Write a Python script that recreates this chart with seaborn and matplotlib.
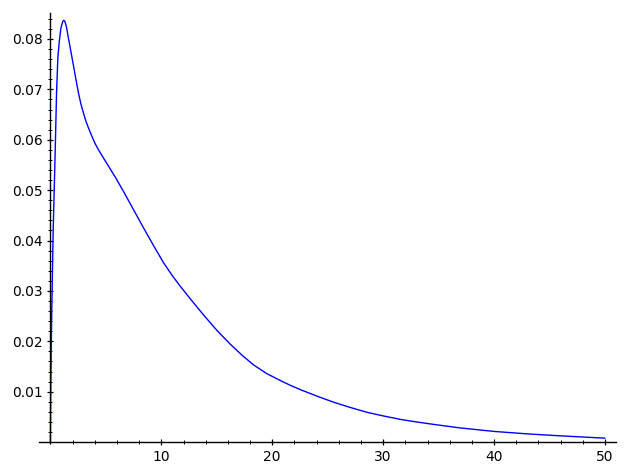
import numpy as np
import pandas as pd
import matplotlib
matplotlib.use('Agg')
import matplotlib.pyplot as plt
import matplotlib.ticker as mticker
import seaborn as sns

# values
x_vals = [0, 0.03, 0.07, 0.13, 0.25, 0.43, 0.55, 0.67, 0.8, 0.95, 1.1, 1.2,
          1.3, 1.45, 1.63, 1.85, 2.08, 2.3, 2.53, 2.75, 2.98, 3.2, 3.44,
          3.74, 4.04, 4.34, 4.64, 5.2, 5.9, 6.6, 7.5, 8.4, 9.3, 10.2, 11.0,
          11.72, 12.7, 13.82, 15.0, 16.23, 17.3, 18.33, 19.5, 20.75, 21.6,
          22.55, 24.06, 25.56, 27.0, 28.57, 30.0, 31.58, 33.0, 34.6, 37.0,
          40.0, 43.0, 46.0, 50.0]
y_vals = [0, 0.010, 0.018, 0.027, 0.042, 0.0575, 0.069, 0.0762, 0.0795,
          0.0822, 0.0834, 0.0837, 0.0835, 0.0824, 0.0801, 0.0775, 0.0747,
          0.0720, 0.0693, 0.0671, 0.0653, 0.0637, 0.0623, 0.0607, 0.0592,
          0.0580, 0.0569, 0.0549, 0.0524, 0.0497, 0.0461, 0.0425, 0.0390,
          0.0356, 0.0330, 0.0309, 0.0282, 0.0252, 0.0222, 0.0194, 0.0172,
          0.0153, 0.0136, 0.0122, 0.0113, 0.0104, 0.0091, 0.0079, 0.0069,
          0.0059, 0.0052, 0.0045, 0.0040, 0.0035, 0.0028, 0.00212, 0.00163,
          0.00124, 0.00078]
x_ticks = [10, 20, 30, 40, 50]
y_ticks = [0.01, 0.02, 0.03, 0.04, 0.05, 0.06, 0.07, 0.08]

df = pd.DataFrame({'x': x_vals, 'y': y_vals})

sns.set_style('white')
plt.rcParams['font.family'] = ['DejaVu Sans']

fig = plt.figure(figsize=(6.28, 4.68), dpi=100)
ax = fig.add_axes([0.0626, 0.0534, 0.9184, 0.9182])

sns.lineplot(data=df, x='x', y='y', color='blue', linewidth=1.0, ax=ax,
             sort=False, estimator=None)

ax.set_xlim(-1.0, 51.0)
ax.set_ylim(-0.00018, 0.0851)

# axes crossing at the origin, sage style
for side in ['top', 'right']:
    ax.spines[side].set_visible(False)
for side in ['left', 'bottom']:
    ax.spines[side].set_position(('data', 0))
    ax.spines[side].set_color('black')
    ax.spines[side].set_linewidth(1.0)

ax.xaxis.set_major_locator(mticker.FixedLocator(x_ticks))
ax.yaxis.set_major_locator(mticker.FixedLocator(y_ticks))
ax.xaxis.set_minor_locator(mticker.FixedLocator(np.arange(0, 51, 2)))
ax.yaxis.set_minor_locator(mticker.FixedLocator(np.arange(0.002, 0.0851, 0.002)))
ax.set_yticklabels([f'{v:.2f}' for v in y_ticks])
ax.set_xticklabels([str(v) for v in x_ticks])

ax.tick_params(which='both', bottom=True, left=True, top=False, right=False)
ax.tick_params(which='major', direction='inout', length=4.5, width=0.9,
               color='black', labelsize=10, labelcolor='black')
ax.tick_params(which='minor', direction='inout', length=2.5, width=0.7,
               color='black')
ax.set_xlabel('')
ax.set_ylabel('')

fig.savefig('out.png', dpi=100)
